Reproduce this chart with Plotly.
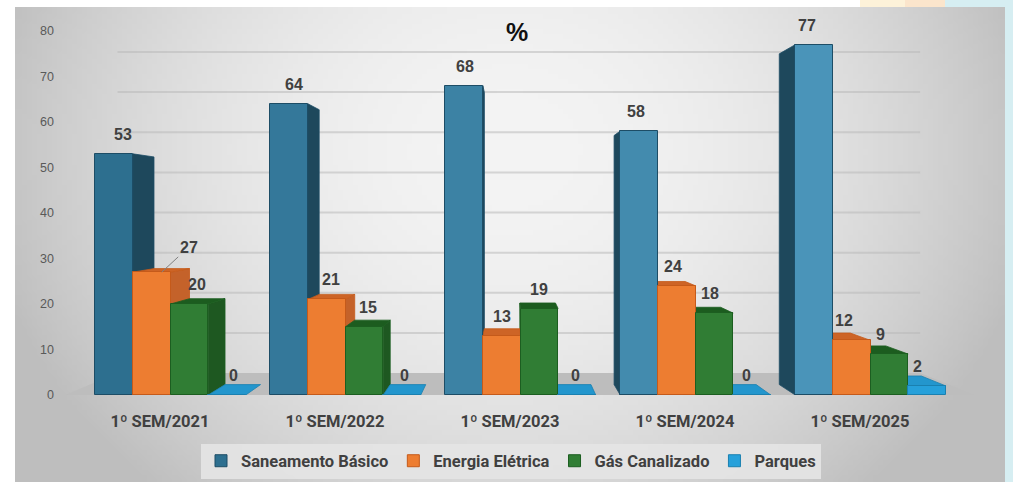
import base64
import struct
import zlib

import numpy as np
import plotly.graph_objects as go

# ---- data ---------------------------------------------------------------
periods = ["1º SEM/2021", "1º SEM/2022", "1º SEM/2023", "1º SEM/2024", "1º SEM/2025"]
series_names = ["Saneamento Básico", "Energia Elétrica", "Gás Canalizado", "Parques"]
saneamento = [53, 64, 68, 58, 77]
energia = [27, 21, 13, 24, 12]
gas = [20, 15, 19, 18, 9]
parques = [0, 0, 0, 0, 2]
series_values = [saneamento, energia, gas, parques]

# ---- styling ------------------------------------------------------------
FRONT = ["#2d6f8f", "#ed7d31", "#307d34", "#26a0da"]
SIDE = ["#1e485c", "#c4622a", "#1e5821", "#197db0"]
TOP = ["#265f7a", "#cd6426", "#1c5c1f", "#2396cd"]
EDGE = ["#1d4d66", "#c55a1a", "#1c5e20", "#1a80b0"]
SANE_LIGHT = (74, 148, 185)

LABEL_FONT = dict(family="Liberation Sans, Arial, sans-serif", size=16, color="#404040", weight="bold")
CAT_FONT = dict(family="Roboto, sans-serif", size=16.5, color="#404040", weight="bold")

# pseudo-3D projection (data units): vanishing point and depth factors
VX, VY = 2.0, 40.9
S_BAR = 0.944      # back face of the columns
S_WALL = 0.882     # back wall / floor edge
BAR_W = 0.215
GROUP_SHIFT = 0.06
X_RANGE = [-95 / 175, 815 / 175]
Y_RANGE = [0, 80]


def back(x, y, s=S_BAR):
    return VX + (x - VX) * s, VY + (y - VY) * s


def lerp_hex(c0, c1, t):
    a = tuple(int(c0[i:i + 2], 16) for i in (1, 3, 5))
    r = [round(a[k] + (c1[k] - a[k]) * t) for k in range(3)]
    return "#%02x%02x%02x" % tuple(r)


def png_uri(arr):
    h, w, _ = arr.shape
    raw = b"".join(b"\x00" + arr[r].tobytes() for r in range(h))

    def chunk(tag, data):
        body = tag + data
        return struct.pack(">I", len(data)) + body + struct.pack(">I", zlib.crc32(body) & 0xFFFFFFFF)

    png = (b"\x89PNG\r\n\x1a\n"
           + chunk(b"IHDR", struct.pack(">IIBBBBB", w, h, 8, 2, 0, 0, 0))
           + chunk(b"IDAT", zlib.compress(raw, 9))
           + chunk(b"IEND", b""))
    return "data:image/png;base64," + base64.b64encode(png).decode()


# soft radial grey panel background
gw, gh = 198, 95
gx = (np.arange(gw) + 0.5) / gw * 990 + 15
gy = (np.arange(gh) + 0.5) / gh * 475 + 7
XX, YY = np.meshgrid(gx, gy)
r2 = ((XX - 510) / 495) ** 2 + ((YY - 150) / 420) ** 2
val = np.clip(244 - 46 * r2, 190, 246)
bg = np.repeat(val[:, :, None], 3, axis=2).astype(np.uint8)
bg_uri = png_uri(bg)

fig = go.Figure()

# ---- bar geometry -------------------------------------------------------
bars = []
for si, vals in enumerate(series_values):
    for gi, v in enumerate(vals):
        xc = gi + GROUP_SHIFT + (si - 1.5) * BAR_W
        bars.append((si, gi, xc, v))

# depth faces, drawn from the outside in so nearer faces overlap farther ones
for si, gi, xc, v in sorted(bars, key=lambda b: -abs(b[2] - VX)):
    x0, x1 = xc - BAR_W / 2, xc + BAR_W / 2
    if v > 0:
        edge = x1 if xc < VX else x0
        bx0, by0 = back(edge, 0)
        bx1, by1 = back(edge, v)
        fig.add_trace(go.Scatter(
            x=[edge, edge, bx1, bx0, edge], y=[0, v, by1, by0, 0],
            fill="toself", fillcolor=SIDE[si], mode="lines",
            line=dict(color=EDGE[si], width=0.8),
            showlegend=False, hoverinfo="skip", zorder=0))
    if v < VY:
        ax0, ay0 = back(x0, v)
        ax1, ay1 = back(x1, v)
        fig.add_trace(go.Scatter(
            x=[x0, x1, ax1, ax0, x0], y=[v, v, ay1, ay0, v],
            fill="toself", fillcolor=TOP[si], mode="lines",
            line=dict(color=EDGE[si], width=0.8),
            showlegend=False, hoverinfo="skip", zorder=0))

# front faces of the columns
for si, name in enumerate(series_names):
    xs = [gi + GROUP_SHIFT + (si - 1.5) * BAR_W for gi in range(len(periods))]
    if si == 0:
        colors = [lerp_hex(FRONT[0], SANE_LIGHT, gi / (len(periods) - 1)) for gi in range(len(periods))]
    else:
        colors = FRONT[si]
    fig.add_trace(go.Bar(
        x=xs, y=series_values[si], width=BAR_W, name=name,
        marker=dict(color=colors, line=dict(color=EDGE[si], width=1)),
        zorder=1, hoverinfo="skip"))

# value labels
LEADERS = {(1, 0): (27, -25)}
for si, gi, xc, v in bars:
    lx = xc + (VX - xc) * (1 - S_BAR) * 0.4
    if (si, gi) in LEADERS:
        ax, ay = LEADERS[(si, gi)]
        fig.add_annotation(
            x=xc + (VX - xc) * (1 - S_BAR) * 0.5, y=v, text=str(v),
            showarrow=True, arrowhead=0, arrowwidth=1, arrowcolor="#808080",
            ax=ax, ay=ay, standoff=0, font=LABEL_FONT)
    else:
        fig.add_annotation(
            x=lx, y=v, text=str(v), showarrow=False,
            yanchor="bottom", yshift=9, font=LABEL_FONT)

# ---- floor, back wall gridlines ----------------------------------------
fx0, fy = back(X_RANGE[0], 0, S_WALL)
fx1, _ = back(X_RANGE[1], 0, S_WALL)
fig.add_shape(type="path", xref="x", yref="y", layer="below",
              path=f"M {X_RANGE[0]},0 L {X_RANGE[1]},0 L {fx1},{fy} L {fx0},{fy} Z",
              fillcolor="#bdbdbd", line=dict(width=0))
for tick in range(10, 81, 10):
    gx0, gyv = back(X_RANGE[0], tick, S_WALL)
    gx1, _ = back(X_RANGE[1], tick, S_WALL)
    fig.add_shape(type="line", xref="x", yref="y", layer="below",
                  x0=gx0, x1=gx1, y0=gyv, y1=gyv,
                  line=dict(color="rgba(185,185,185,0.55)", width=2))

# surrounding page colours
L, R, T, B = 65, 975, 31, 395
PW, PH = R - L, B - T


def px_x(p):
    return (p - L) / PW


def px_y(p):
    return (B - p) / PH


for x0p, x1p, y1p, col in [(1005, 1013, 482, "#d6eef2"), (945, 1013, 7, "#d6eef2"),
                           (860, 905, 7, "#fdf2d9"), (905, 945, 7, "#fbe5cc")]:
    fig.add_shape(type="rect", xref="paper", yref="paper", layer="below",
                  x0=px_x(x0p), x1=px_x(x1p), y0=px_y(y1p), y1=px_y(0),
                  fillcolor=col, line=dict(width=0))

fig.add_layout_image(dict(
    source=bg_uri, xref="paper", yref="paper",
    x=px_x(15), y=px_y(7), sizex=990 / PW, sizey=475 / PH,
    xanchor="left", yanchor="top", sizing="stretch", layer="below"))

# chart title
fig.add_annotation(text="%", xref="paper", yref="paper", x=px_x(517), y=px_y(32),
                   showarrow=False, xanchor="center", yanchor="middle",
                   font=dict(family="Liberation Sans, Arial, sans-serif", size=25,
                             color="#111111", weight="bold"))

fig.update_layout(
    width=1013, height=482, autosize=False,
    margin=dict(l=L, r=1013 - R, t=T, b=482 - B, autoexpand=False),
    paper_bgcolor="white", plot_bgcolor="rgba(0,0,0,0)",
    barmode="overlay", bargap=0,
    showlegend=True,
    legend=dict(orientation="h", x=px_x(511), y=px_y(461), xanchor="center", yanchor="middle",
                bgcolor="rgba(228,228,228,0.9)", borderwidth=0,
                font=dict(family="Roboto, sans-serif", size=16.5, color="#404040", weight="bold"),
                itemwidth=30, traceorder="normal"),
    xaxis=dict(range=X_RANGE, tickmode="array", tickvals=list(range(len(periods))),
               ticktext=periods, showgrid=False, zeroline=False,
               showline=True, linecolor="#5a5a5a", linewidth=3, automargin=False,
               tickfont=CAT_FONT, ticks="", ticklabelstandoff=9, fixedrange=True),
    yaxis=dict(range=Y_RANGE, tickmode="linear", tick0=0, dtick=10,
               showgrid=False, zeroline=False, showline=False, ticks="", automargin=False,
               tickfont=dict(family="Liberation Sans, Arial, sans-serif", size=12.5, color="#595959"),
               ticklabelstandoff=10, fixedrange=True),
)

fig.write_html("out.html")
